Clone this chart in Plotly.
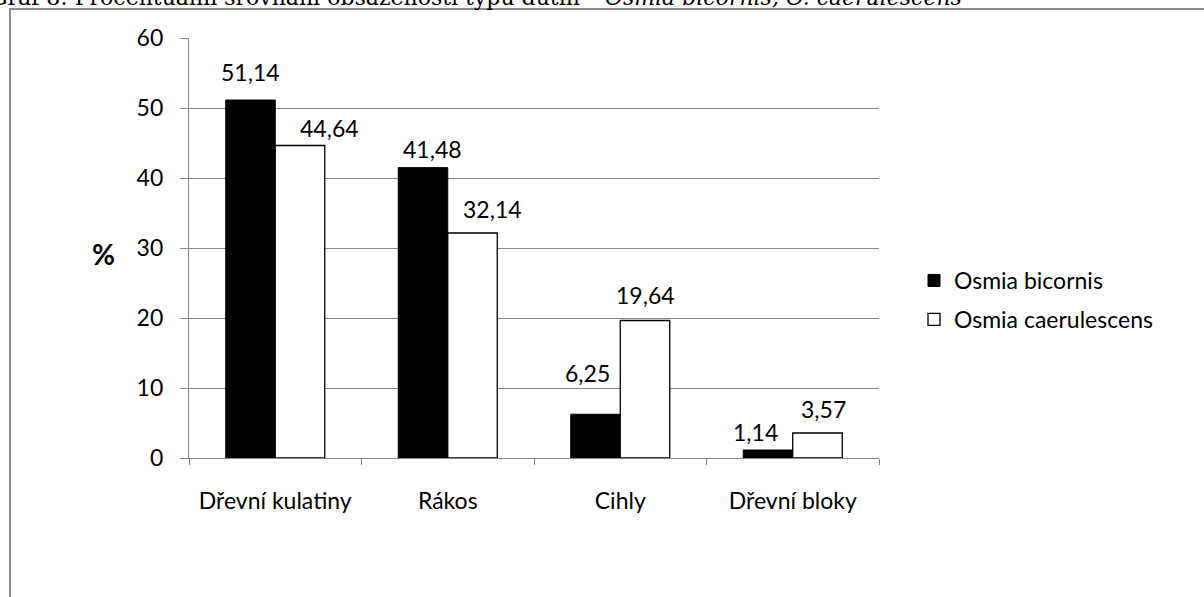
import plotly.graph_objects as go

categories = ["Dřevní kulatiny", "Rákos", "Cihly", "Dřevní bloky"]
bicornis = [51.14, 41.48, 6.25, 1.14]
caerulescens = [44.64, 32.14, 19.64, 3.57]
series_names = ["Osmia bicornis", "Osmia caerulescens"]
y_ticks = [0, 10, 20, 30, 40, 50, 60]

# label offsets (pixels) relative to bar top / bar centre, as placed in the original
lab_dx_b = [0, 10, -8, -12]
lab_dx_c = [29, 20, 0, 6]
lab_dy_b = [28, 19, 41, 18]
lab_dy_c = [18, 24, 26, 24]

FONT = "Lato"
FS = 23
L, R, T, B = 189, 879, 38, 458
W, H = 1204, 597

def px(xp):
    return (xp - L) / (R - L)

def py(yp):
    return (B - yp) / (B - T)

fig = go.Figure()
fig.add_trace(go.Bar(x=categories, y=bicornis, name=series_names[0],
                     marker=dict(color="black", line=dict(color="black", width=1)),
                     legendgroup="a"))
fig.add_trace(go.Bar(x=categories, y=caerulescens, name=series_names[1],
                     marker=dict(color="white", line=dict(color="black", width=1.3)),
                     legendgroup="b"))

def fmt(v):
    return f"{v:.2f}".replace(".", ",")

bar_half = 25
for i, c in enumerate(categories):
    fig.add_annotation(x=c, y=bicornis[i], xref="x", yref="y", text=fmt(bicornis[i]),
                       showarrow=False, xshift=-bar_half + lab_dx_b[i], yshift=lab_dy_b[i],
                       yanchor="middle", font=dict(family=FONT, size=FS, color="black"))
    fig.add_annotation(x=c, y=caerulescens[i], xref="x", yref="y", text=fmt(caerulescens[i]),
                       showarrow=False, xshift=bar_half + lab_dx_c[i], yshift=lab_dy_c[i],
                       yanchor="middle", font=dict(family=FONT, size=FS, color="black"))

# % label
fig.add_annotation(x=px(90), y=py(254), xref="paper", yref="paper", text="<b>%</b>",
                   showarrow=False, font=dict(family=FONT, size=28, color="black"))

# caption (cut off at top of page)
fig.add_annotation(x=px(-12), y=py(-3), xref="paper", yref="paper", xanchor="left", yanchor="middle",
                   text="Graf 8: Procentuální srovnání obsazenosti typů dutin – <i>Osmia bicornis, O. caerulescens</i>",
                   showarrow=False, font=dict(family="DejaVu Serif", size=22, color="black"))

# outer frame
fig.add_shape(type="rect", xref="paper", yref="paper", x0=px(10), y0=py(620), x1=px(1230), y1=py(9),
              line=dict(color="#8c8c8c", width=2), fillcolor="rgba(0,0,0,0)", layer="below")

fig.update_layout(
    width=W, height=H,
    margin=dict(l=L, r=W - R, t=T, b=H - B, pad=0),
    paper_bgcolor="white", plot_bgcolor="white",
    barmode="group", bargap=0.426, bargroupgap=0,
    separators=", ",
    font=dict(family=FONT, size=FS, color="black"),
    showlegend=True,
    legend=dict(x=px(914), y=py(300), xanchor="left", yanchor="middle",
                font=dict(family=FONT, size=FS, color="black"),
                tracegroupgap=6, traceorder="grouped", bgcolor="rgba(0,0,0,0)"),
    xaxis=dict(showline=True, linecolor="#868686", linewidth=1.3, ticks="outside",
               tickson="boundaries", ticklen=6, tickcolor="#868686", tickwidth=1.3,
               showgrid=False, ticklabelstandoff=22, tickfont=dict(family=FONT, size=FS)),
    yaxis=dict(range=[0, 60], tickvals=y_ticks, showline=True, linecolor="#868686", linewidth=1.3,
               ticks="outside", ticklen=8, tickcolor="#868686", tickwidth=1.3,
               showgrid=True, gridcolor="#868686", gridwidth=1.3, zeroline=False,
               ticklabelstandoff=12, tickfont=dict(family=FONT, size=FS)),
)

fig.write_html("out.html", config={"displayModeBar": False},
               post_script="document.body.style.margin='0';")
